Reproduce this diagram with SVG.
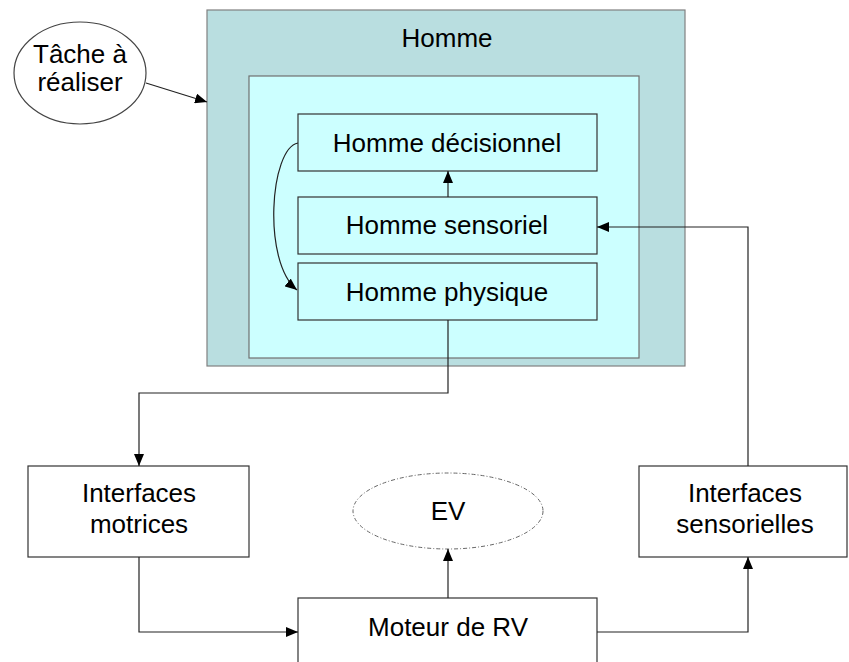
<svg xmlns="http://www.w3.org/2000/svg" width="849" height="662" viewBox="0 0 849 662">
<defs>
<marker id="ah" viewBox="0 0 12 10" refX="12" refY="5" markerWidth="12" markerHeight="10" markerUnits="userSpaceOnUse" orient="auto">
<path d="M0,0 L12,5 L0,10 Z" fill="#000"/>
</marker>
<style>
text{font-family:"Liberation Sans",Arial,sans-serif;font-size:26px;fill:#000;text-anchor:middle}
.box{fill:#fff;stroke:#333;stroke-width:1.2}
.sub{fill:#ccffff;stroke:#333;stroke-width:1.2}
.con{fill:none;stroke:#222;stroke-width:1.2}
</style>
</defs>
<rect width="849" height="662" fill="#fff"/>
<g id="homme">
<rect x="207" y="10" width="478" height="356" fill="#b9dee0" stroke="#808080" stroke-width="1.2"/>
<text x="447" y="47">Homme</text>
<rect x="249" y="76" width="390" height="282" fill="#ccffff" stroke="#707070" stroke-width="1.2"/>
</g>
<g id="decisionnel">
<rect class="sub" x="298" y="114" width="299" height="57"/>
<text x="447" y="152">Homme décisionnel</text>
</g>
<g id="sensoriel">
<rect class="sub" x="298" y="197" width="299" height="57"/>
<text x="447" y="234">Homme sensoriel</text>
</g>
<g id="physique">
<rect class="sub" x="298" y="263" width="299" height="57"/>
<text x="447" y="301">Homme physique</text>
</g>
<g id="tache">
<ellipse cx="80" cy="73" rx="66" ry="51" fill="#fff" stroke="#444" stroke-width="1.2"/>
<text x="80" y="63">Tâche à</text>
<text x="80" y="91">réaliser</text>
</g>
<g id="motrices">
<rect class="box" x="28" y="466" width="221" height="91"/>
<text x="139" y="502">Interfaces</text>
<text x="139" y="533">motrices</text>
</g>
<g id="sensorielles">
<rect class="box" x="639" y="466" width="208" height="91"/>
<text x="745" y="502">Interfaces</text>
<text x="745" y="533">sensorielles</text>
</g>
<g id="ev">
<ellipse cx="448" cy="511" rx="95" ry="38" fill="#fff" stroke="#666" stroke-width="1" stroke-dasharray="4,2,1,2"/>
<text x="448" y="520">EV</text>
</g>
<g id="moteur">
<rect class="box" x="298" y="598" width="299" height="70"/>
<text x="448" y="636">Moteur de RV</text>
</g>
<g id="connectors">
<path class="con" d="M146,83 L207,102" marker-end="url(#ah)"/>
<path class="con" d="M448,197 L448,171" marker-end="url(#ah)"/>
<path class="con" d="M298,143 C270,148 262,262 297,290" marker-end="url(#ah)"/>
<path class="con" d="M448,320 L448,393 L139,393 L139,466" marker-end="url(#ah)"/>
<path class="con" d="M139,557 L139,632 L298,632" marker-end="url(#ah)"/>
<path class="con" d="M448,598 L448,549" marker-end="url(#ah)"/>
<path class="con" d="M597,632 L748,632 L748,557" marker-end="url(#ah)"/>
<path class="con" d="M748,466 L748,227 L597,227" marker-end="url(#ah)"/>
</g>
</svg>
